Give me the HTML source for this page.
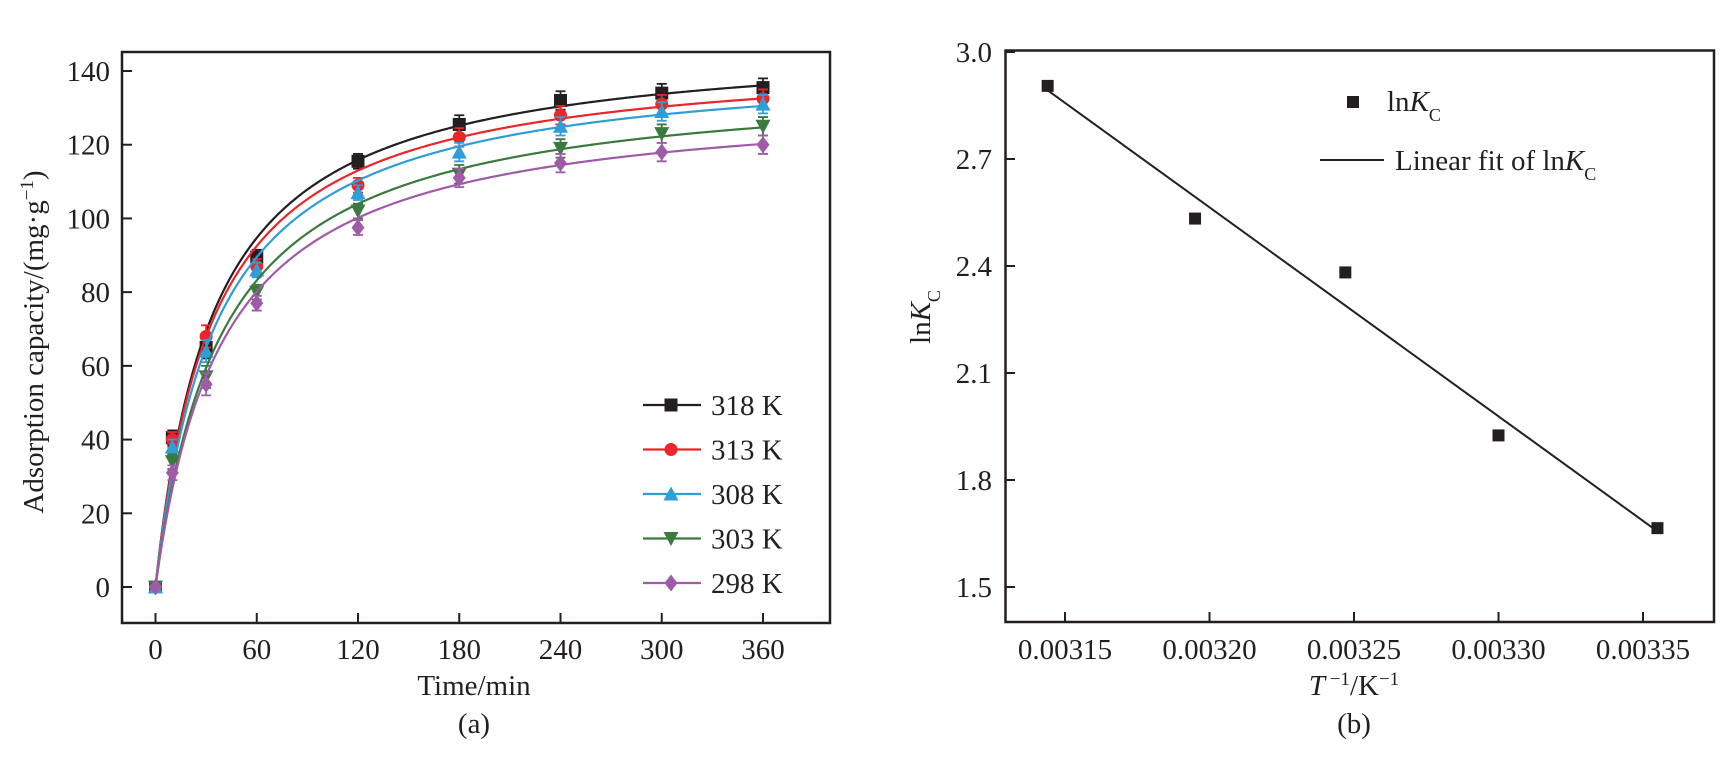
<!DOCTYPE html>
<html><head><meta charset="utf-8"><style>
body{margin:0;background:#fff}
svg{display:block;font-family:"Liberation Serif",serif}
</style></head><body>
<svg id="c" width="1729" height="777" xmlns="http://www.w3.org/2000/svg"></svg>
<script>
const times=[0,10,30,60,120,180,240,300,360];
const temps=["318 K","313 K","308 K","303 K","298 K"];
const q318=[0,40.5,65,89.5,115.5,125.5,132,134,135.5];
const q313=[0,40,68,87,109,122,128,131,132.5];
const q308=[0,38,64,86,107,118,125,129,131];
const q303=[0,34,57,80,102,112,119,123,125];
const q298=[0,31,55,77,97.5,111,115,118,120];
const errs=[0,2,3,2,2,2.5,2.5,2.5,2.5];
const yTicksA=[0,20,40,60,80,100,120,140];
const xTicksA=[0,60,120,180,240,300,360];
const invT=[0.003144,0.003195,0.003247,0.003300,0.003355];
const lnKc=[2.905,2.533,2.382,1.925,1.665];
const yTicksB=[1.5,1.8,2.1,2.4,2.7,3.0];
const xTicksB=[0.00315,0.00320,0.00325,0.00330,0.00335];
const xLabB=["0.00315","0.00320","0.00325","0.00330","0.00335"];
const colors=["#231f20","#e8262b","#2d9fd6","#3a7a3e","#a05ba8"];
const shapes=["sq","ci","tu","td","di"];
const series=[q318,q313,q308,q303,q298];

const NS="http://www.w3.org/2000/svg";
const svg=document.getElementById('c');
function el(t,a,p){const e=document.createElementNS(NS,t);for(const k in a)e.setAttribute(k,a[k]);(p||svg).appendChild(e);return e;}
function txt(s,x,y,a,p){const e=el('text',Object.assign({x:x,y:y,'font-size':29,fill:'#231f20'},a),p);e.textContent=s;return e;}

// Chart A scales
const ax=v=>155.5+(v-0)*(763-155.5)/360;
const ay=v=>587-(v)*(587-71)/140;
const gA=el('g',{});


const fA=el('rect',{x:122,y:52,width:708,height:571,fill:'none',stroke:'#231f20','stroke-width':2.5},gA);


yTicksA.forEach(v=>{el('line',{x1:122,x2:132,y1:ay(v),y2:ay(v),stroke:'#231f20','stroke-width':2},gA);
 const t=txt(String(v),110,ay(v)+10,{'text-anchor':'end'},gA);
 
 });
xTicksA.forEach(v=>{el('line',{x1:ax(v),x2:ax(v),y1:623,y2:613,stroke:'#231f20','stroke-width':2},gA);
 const t=txt(String(v),ax(v),659,{'text-anchor':'middle'},gA);
 
 });
let t1=txt('Time/min',474,695,{'text-anchor':'middle'},gA);


let t2=txt('(a)',474,733,{'text-anchor':'middle'},gA);


let yt=el('text',{transform:'translate(43,342) rotate(-90)','text-anchor':'middle','font-size':29,fill:'#231f20'},gA);
yt.innerHTML='Adsorption capacity/(mg·g<tspan baseline-shift="super" font-size="19">−1</tspan>)';



function marker(s,x,y,c,p){
 const r=6.5;
 if(s=='sq')return el('rect',{x:x-r,y:y-r,width:2*r,height:2*r,fill:c},p);
 if(s=='ci')return el('circle',{cx:x,cy:y,r:r,fill:c},p);
 if(s=='tu')return el('polygon',{points:`${x},${y-r-1} ${x-r-1},${y+r} ${x+r+1},${y+r}`,fill:c},p);
 if(s=='td')return el('polygon',{points:`${x},${y+r+1} ${x-r-1},${y-r} ${x+r+1},${y-r}`,fill:c},p);
 return el('polygon',{points:`${x},${y-r-2} ${x-r},${y} ${x},${y+r+2} ${x+r},${y}`,fill:c},p);
}
series.forEach((d,i)=>{
 const g=el('g',{},gA);
 
 
 // pseudo-second-order fit: t/q = a + b t
 let n=0,sx=0,sy=0,sxx=0,sxy=0;
 times.forEach((t,j)=>{if(t>0){const yv=t/d[j];n++;sx+=t;sy+=yv;sxx+=t*t;sxy+=t*yv;}});
 const b=(n*sxy-sx*sy)/(n*sxx-sx*sx),a=(sy-b*sx)/n;
 let pts=[];for(let t=0;t<=360;t+=1){pts.push(ax(t)+','+ay(t/(a+b*t)));}
 const fl=el('polyline',{points:pts.join(' '),fill:'none',stroke:colors[i],'stroke-width':2.2},g);
 
 
 times.forEach((t,j)=>{
  const x=ax(t),y=ay(d[j]);
  if(errs[j]>0){const e1=ay(d[j]+errs[j]),e2=ay(d[j]-errs[j]);
   el('path',{d:`M${x},${e1}V${e2}M${x-5},${e1}h10M${x-5},${e2}h10`,stroke:colors[i],'stroke-width':1.8,fill:'none'},g);}
  const m=marker(shapes[i],x,y,colors[i],g);
  
  
 });
});
// legend A
const lg=el('g',{},gA);


temps.forEach((s,i)=>{
 const y=405+i*44.5;
 const g=el('g',{},lg);
 
 
 el('line',{x1:643,x2:701,y1:y,y2:y,stroke:colors[i],'stroke-width':2.2},g);
 marker(shapes[i],671,y,colors[i],g);
 txt(s,711,y+10,{},g);
});

// Chart B scales
const bx=v=>1065+(v-0.00315)*(1643-1065)/0.0002;
const by=v=>587-(v-1.5)*(587-52)/1.5;
const gB=el('g',{});


const fB=el('rect',{x:1005.5,y:50.5,width:708.5,height:571.5,fill:'none',stroke:'#231f20','stroke-width':2.5},gB);


yTicksB.forEach(v=>{el('line',{x1:1005,x2:1015,y1:by(v),y2:by(v),stroke:'#231f20','stroke-width':2},gB);
 const t=txt(v.toFixed(1),992,by(v)+10,{'text-anchor':'end'},gB);
 
 });
xTicksB.forEach((v,i)=>{el('line',{x1:bx(v),x2:bx(v),y1:622,y2:612,stroke:'#231f20','stroke-width':2},gB);
 const t=txt(xLabB[i],bx(v),659,{'text-anchor':'middle'},gB);
 
 });
let xb=el('text',{x:1354,y:695,'text-anchor':'middle','font-size':29,fill:'#231f20'},gB);
xb.innerHTML='<tspan font-style="italic">T</tspan><tspan baseline-shift="super" font-size="19"> −1</tspan>/K<tspan baseline-shift="super" font-size="19">−1</tspan>';


let pb=txt('(b)',1354,733,{'text-anchor':'middle'},gB);


let ybt=el('text',{transform:'translate(930,317) rotate(-90)','text-anchor':'middle','font-size':29,fill:'#231f20'},gB);
ybt.innerHTML='ln<tspan font-style="italic">K</tspan><tspan baseline-shift="sub" font-size="18">C</tspan>';


// linear fit
{let n=invT.length,sx=0,sy=0,sxx=0,sxy=0;
 invT.forEach((x,j)=>{sx+=x;sy+=lnKc[j];sxx+=x*x;sxy+=x*lnKc[j];});
 const b=(n*sxy-sx*sy)/(n*sxx-sx*sx),a=(sy-b*sx)/n;
 const x0=invT[0],x1=invT[n-1];
 const ln=el('line',{x1:bx(x0),y1:by(a+b*x0),x2:bx(x1),y2:by(a+b*x1),stroke:'#231f20','stroke-width':2},gB);
 
 }
invT.forEach((x,j)=>{
 const m=el('rect',{x:bx(x)-6,y:by(lnKc[j])-6,width:12,height:12,fill:'#231f20'},gB);
 
 
});
// legend B
const lb=el('g',{},gB);


el('rect',{x:1347,y:96,width:12,height:12,fill:'#231f20'},lb);
let l1=el('text',{x:1387,y:111,'font-size':29,fill:'#231f20'},lb);
l1.innerHTML='ln<tspan font-style="italic">K</tspan><tspan baseline-shift="sub" font-size="18">C</tspan>';


el('line',{x1:1320,x2:1384,y1:160,y2:160,stroke:'#231f20','stroke-width':2},lb);
let l2=el('text',{x:1395,y:170,'font-size':29,fill:'#231f20'},lb);
l2.innerHTML='Linear fit of ln<tspan font-style="italic">K</tspan><tspan baseline-shift="sub" font-size="18">C</tspan>';


</script>
</body></html>
